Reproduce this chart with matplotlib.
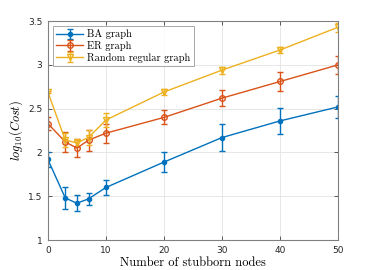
import numpy as np
import matplotlib.pyplot as plt

# stubborn node counts
nodes = [0, 3, 5, 7, 10, 20, 30, 40, 50]

ba_mean = [1.92, 1.48, 1.42, 1.47, 1.60, 1.89, 2.17, 2.36, 2.52]
ba_err = [0.09, 0.13, 0.09, 0.065, 0.085, 0.115, 0.15, 0.15, 0.13]

er_mean = [2.33, 2.12, 2.05, 2.14, 2.22, 2.40, 2.62, 2.81, 3.00]
er_err = [0.07, 0.11, 0.10, 0.12, 0.11, 0.08, 0.09, 0.11, 0.10]

rr_mean = [2.69, 2.14, 2.11, 2.17, 2.37, 2.69, 2.94, 3.17, 3.43]
rr_err = [0.01, 0.08, 0.045, 0.09, 0.08, 0.03, 0.04, 0.035, 0.05]

labels = ['BA graph', 'ER graph', 'Random regular graph']
colors = ['#0072BD', '#D95319', '#EDB120']

plt.rcParams['mathtext.fontset'] = 'cm'

fig = plt.figure(figsize=(3.74, 2.70), dpi=100)
ax = fig.add_axes([0.128, 0.111, 0.776, 0.811])

ax.errorbar(nodes, ba_mean, yerr=ba_err, color=colors[0], marker='.', markersize=6,
            lw=1.0, elinewidth=1.0, capsize=2.5, label=labels[0])
ax.errorbar(nodes, er_mean, yerr=er_err, color=colors[1], marker='o', markersize=4,
            mfc='none', mew=1.0, lw=1.0, elinewidth=1.0, capsize=2.5, label=labels[1])
ax.errorbar(nodes, rr_mean, yerr=rr_err, color=colors[2], marker='v', markersize=4.5,
            mfc='none', mew=1.0, lw=1.0, elinewidth=1.0, capsize=2.5, label=labels[2])

ax.set_xlim(0, 50)
ax.set_ylim(1, 3.5)
ax.set_xticks([0, 10, 20, 30, 40, 50])
ax.set_yticks([1, 1.5, 2, 2.5, 3, 3.5])
ax.set_yticklabels(['1', '1.5', '2', '2.5', '3', '3.5'])
ax.grid(True, color='#e3e3e3', lw=0.6)
ax.set_axisbelow(True)
ax.tick_params(direction='in', top=True, right=True, labelsize=6.5, length=3,
               width=0.6, colors='#404040', labelcolor='#262626', pad=4)
for s in ax.spines.values():
    s.set_color('#808080')
    s.set_linewidth(0.8)

ax.set_xlabel('Number of stubborn nodes', fontfamily='cmr10', fontsize=9, labelpad=2)
ax.set_ylabel(r'$log_{10}(Cost)$', fontsize=9, labelpad=2)

leg = ax.legend(loc='upper left', prop={'family': 'cmr10', 'size': 7.5},
                fancybox=False, edgecolor='#808080', borderpad=0.3,
                labelspacing=0.15, handlelength=2.6, handletextpad=0.4,
                borderaxespad=0.5)
leg.get_frame().set_linewidth(0.6)

fig.savefig('out.png', dpi=100)
